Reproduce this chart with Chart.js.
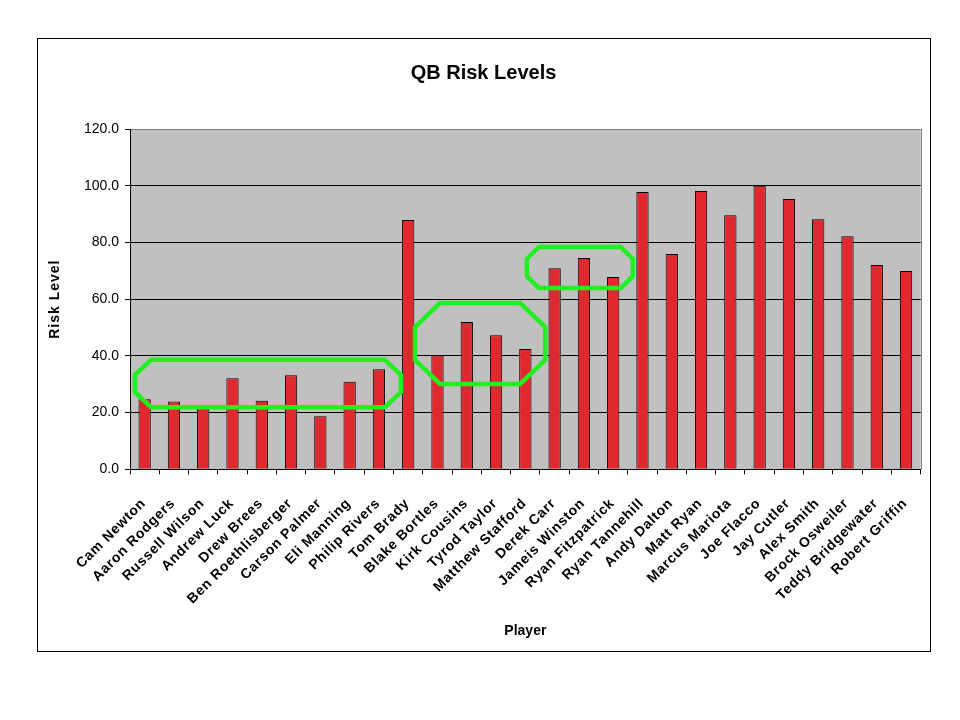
<!DOCTYPE html>
<html>
<head>
<meta charset="utf-8">
<script src="https://cdn.jsdelivr.net/npm/chart.js@4/dist/chart.umd.min.js"></script>
<style>
  html, body { margin: 0; padding: 0; background: #fff; }
  #wrap { width: 960px; height: 720px; }
</style>
</head>
<body>
<div id="wrap"><canvas id="c" width="960" height="720"></canvas></div>
<script>
const players = [
  'Cam Newton', 'Aaron Rodgers', 'Russell Wilson', 'Andrew Luck', 'Drew Brees',
  'Ben Roethlisberger', 'Carson Palmer', 'Eli Manning', 'Philip Rivers', 'Tom Brady',
  'Blake Bortles', 'Kirk Cousins', 'Tyrod Taylor', 'Matthew Stafford', 'Derek Carr',
  'Jameis Winston', 'Ryan Fitzpatrick', 'Ryan Tannehill', 'Andy Dalton', 'Matt Ryan',
  'Marcus Mariota', 'Joe Flacco', 'Jay Cutler', 'Alex Smith', 'Brock Osweiler',
  'Teddy Bridgewater', 'Robert Griffin'
];
const riskLevels = [
  24.7, 23.9, 22.6, 32.1, 24.2,
  33.2, 18.7, 30.9, 35.3, 87.9,
  40.2, 51.9, 47.3, 42.4, 70.9,
  74.5, 67.8, 97.8, 75.9, 98.1,
  89.6, 100.0, 95.3, 88.2, 82.2,
  72.0, 69.9
];
const yMin = 0, yMax = 120, yStep = 20;

const FONT = "'Liberation Sans', Arial, sans-serif";
const PAD = { top: 39, left: 37, right: 30, bottom: 69 };

// highlighted groups (category index range and value range), drawn through the scales
const highlights = [
  { left: -0.33, right: 8.75, low: 21.9, high: 38.6, cx: 16, cy: 15 },
  { left: 9.23, right: 13.68, low: 30.1, high: 58.6, cx: 25, cy: 24 },
  { left: 13.05, right: 16.67, low: 63.9, high: 78.4, cx: 12, cy: 12 }
];

function wrapSpacing(scale, method, spacing) {
  if (scale['_wrapped_' + method]) return;
  scale['_wrapped_' + method] = true;
  const orig = scale[method];
  scale[method] = function (...args) {
    const ctx = this.ctx;
    ctx.save();
    ctx.letterSpacing = spacing;
    orig.apply(this, args);
    ctx.restore();
  };
}

const framePlugin = {
  id: 'frame',
  beforeDraw(chart) {
    const { ctx, chartArea: a } = chart;
    ctx.save();
    ctx.fillStyle = '#fff';
    ctx.fillRect(0, 0, chart.width, chart.height);
    ctx.fillStyle = '#C0C0C0';
    ctx.fillRect(a.left, a.top, a.right - a.left, a.bottom - a.top);
    ctx.strokeStyle = '#000';
    ctx.lineWidth = 1;
    ctx.strokeRect(PAD.left + 0.5, PAD.top - 0.5, chart.width - PAD.left - PAD.right, chart.height - PAD.top - PAD.bottom + 1);
    ctx.restore();
    wrapSpacing(chart.scales.x, 'drawLabels', '0.7px');
    wrapSpacing(chart.scales.y, 'drawTitle', '1px');
  },
  beforeDatasetsDraw(chart) {
    const { ctx, chartArea: a } = chart;
    ctx.save();
    ctx.strokeStyle = '#808080';
    ctx.lineWidth = 1;
    ctx.beginPath();
    ctx.moveTo(Math.round(a.right) + 0.5, a.top);
    ctx.lineTo(Math.round(a.right) + 0.5, a.bottom);
    ctx.stroke();
    ctx.restore();
  },
  afterDatasetsDraw(chart) {
    const { ctx, scales: { x, y } } = chart;
    ctx.save();
    ctx.strokeStyle = '#22EE22';
    ctx.lineWidth = 4.5;
    ctx.lineJoin = 'round';
    highlights.forEach(h => {
      const x0 = x.getPixelForValue(h.left), x1 = x.getPixelForValue(h.right);
      const y0 = y.getPixelForValue(h.high), y1 = y.getPixelForValue(h.low);
      ctx.beginPath();
      ctx.moveTo(x0 + h.cx, y0);
      ctx.lineTo(x1 - h.cx, y0);
      ctx.lineTo(x1, y0 + h.cy);
      ctx.lineTo(x1, y1 - h.cy);
      ctx.lineTo(x1 - h.cx, y1);
      ctx.lineTo(x0 + h.cx, y1);
      ctx.lineTo(x0, y1 - h.cy);
      ctx.lineTo(x0, y0 + h.cy);
      ctx.closePath();
      ctx.stroke();
    });
    ctx.restore();
  }
};

new Chart(document.getElementById('c'), {
  type: 'bar',
  data: {
    labels: players,
    datasets: [{
      label: 'Risk Level',
      data: riskLevels,
      backgroundColor: '#E0282F',
      borderColor: '#000',
      borderWidth: 1,
      categoryPercentage: 1.0,
      barPercentage: 0.42
    }]
  },
  options: {
    responsive: false,
    animation: false,
    devicePixelRatio: 1,
    layout: { padding: PAD },
    plugins: {
      legend: { display: false },
      tooltip: { enabled: false },
      title: {
        display: true,
        text: 'QB Risk Levels',
        color: '#000',
        font: { family: FONT, size: 20, weight: 'bold' },
        padding: { top: 22, bottom: 44 }
      }
    },
    scales: {
      x: {
        offset: true,
        grid: {
          display: true,
          drawOnChartArea: false,
          offset: true,
          tickLength: 5,
          color: '#000',
          tickColor: '#000'
        },
        border: { display: true, color: '#000', width: 1 },
        ticks: {
          autoSkip: false,
          maxRotation: 45,
          minRotation: 45,
          padding: 21,
          labelOffset: -1,
          color: '#000',
          font: { family: FONT, size: 14, weight: 'bold' }
        },
        title: {
          display: true,
          text: 'Player',
          color: '#000',
          font: { family: FONT, size: 14, weight: 'bold' },
          padding: { top: 0, bottom: 11.6 }
        },
        afterFit(scale) {
          scale.height = 720 - PAD.bottom - 469.3;
          scale.paddingRight = 39.3;
          scale.paddingLeft = 0;
        }
      },
      y: {
        min: yMin,
        max: yMax,
        ticks: {
          stepSize: yStep,
          padding: 6,
          color: '#000',
          font: { family: FONT, size: 14 },
          callback: v => Number(v).toFixed(1)
        },
        grid: {
          color: c => (c.tick && c.tick.value === yMax) ? '#808080' : '#000',
          tickColor: '#000',
          tickLength: 5,
          lineWidth: 1
        },
        border: { display: true, color: '#000', width: 1 },
        title: {
          display: true,
          text: 'Risk Level',
          color: '#000',
          font: { family: FONT, size: 14, weight: 'bold' },
          padding: { top: 9.6, bottom: 0 }
        },
        afterFit(scale) {
          scale.width = 93;
        }
      }
    }
  },
  plugins: [framePlugin]
});
</script>
</body>
</html>
